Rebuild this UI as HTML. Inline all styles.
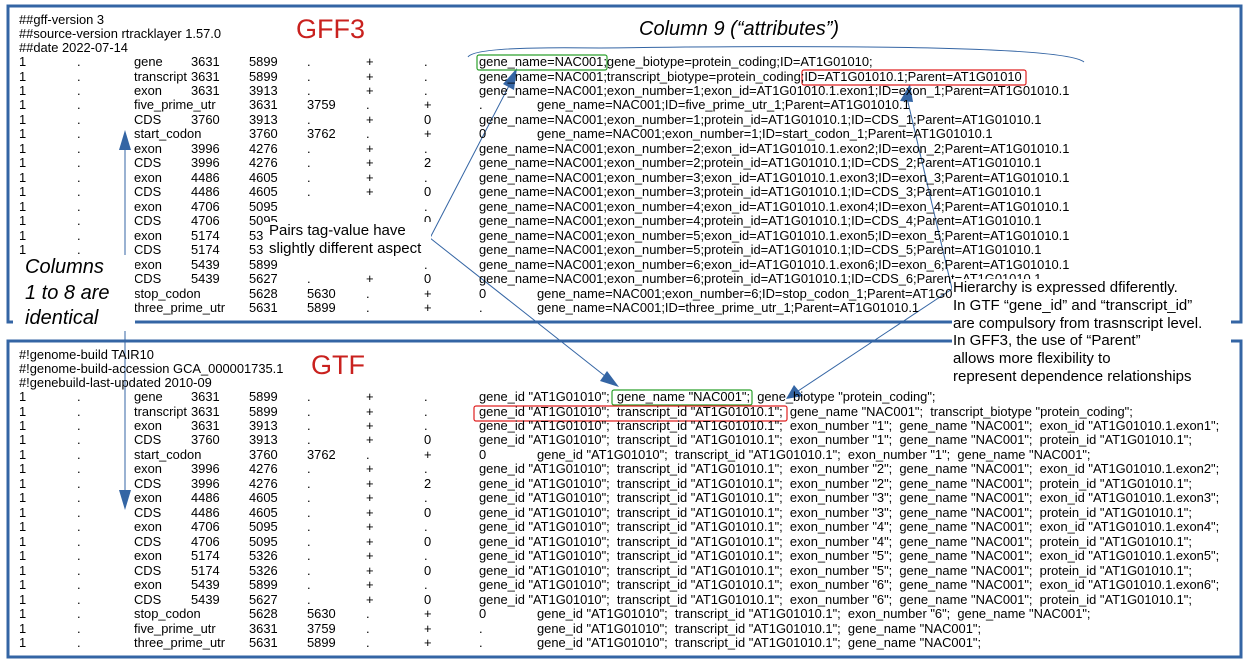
<!DOCTYPE html>
<html><head><meta charset="utf-8"><style>
body{margin:0;width:1248px;height:665px;background:#fff;position:relative;overflow:hidden;font-family:"Liberation Sans",sans-serif;}
.r{position:absolute;left:0;height:14px;line-height:14px;font-size:12.9px;color:#000;white-space:pre;}
.r span{position:absolute;top:0}
.a{left:19px}.b{left:77px}.c{left:134px}.d{left:191px}.e{left:249px}.f{left:307px}.g{left:366px}.h{left:424px}.i{left:479px}.j{left:537px}
.t{position:absolute;white-space:pre;}
svg{position:absolute;left:0;top:0}
</style></head><body>
<svg width="1248" height="665">
<rect x="8" y="6" width="1233" height="316" fill="none" stroke="#3465a4" stroke-width="3"/>
<rect x="8" y="341" width="1233" height="316" fill="none" stroke="#3465a4" stroke-width="3"/>
<path d="M468,57 Q475,46 600,48 Q1060,42 1084,62" fill="none" stroke="#3465a4" stroke-width="1"/>
<g stroke="#3465a4" stroke-width="1" fill="none">
<line x1="125" y1="145" x2="125" y2="495"/>
<line x1="430" y1="238" x2="512" y2="80"/>
<line x1="430" y1="238" x2="610" y2="380"/>
<line x1="952" y1="289" x2="907" y2="98"/>
<line x1="952" y1="289" x2="795" y2="393"/>
</g>
<g fill="#3465a4">
<polygon points="125,130 119,150 131,150"/>
<polygon points="125,510 119,490 131,490"/>
<polygon points="517,68 503,84 514,90"/>
<polygon points="619,387 600,381 607,371"/>
<polygon points="910,84 900,101 913,102"/>
<polygon points="786,399 794,385 803,396"/>
</g>
<rect x="477" y="55" width="130" height="15" rx="2" fill="none" stroke="#2ca02c" stroke-width="1.2"/>
<rect x="802" y="70" width="224" height="15" rx="2" fill="none" stroke="#e02020" stroke-width="1.2"/>
<rect x="612" y="390" width="140" height="15" rx="2" fill="none" stroke="#2ca02c" stroke-width="1.2"/>
<rect x="474" y="406" width="313" height="15" rx="2" fill="none" stroke="#e02020" stroke-width="1.2"/>
</svg>

<div class="t" style="left:296px;top:14px;font-size:27px;color:#c9211e;">GFF3</div>
<div class="t" style="left:311px;top:350px;font-size:27px;color:#c9211e;">GTF</div>
<div class="t" style="left:639px;top:18px;font-size:20px;font-style:italic;">Column 9 (“attributes”)</div>

<div class="r" style="top:13px"><span class="a">##gff-version 3</span></div>
<div class="r" style="top:27px"><span class="a">##source-version rtracklayer 1.57.0</span></div>
<div class="r" style="top:41px"><span class="a">##date 2022-07-14</span></div>
<div class="r" style="top:55px"><span class="a">1</span><span class="b">.</span><span class="c">gene</span><span class="d">3631</span><span class="e">5899</span><span class="f">.</span><span class="g">+</span><span class="h">.</span><span class="i">gene_name=NAC001;gene_biotype=protein_coding;ID=AT1G01010;</span></div>
<div class="r" style="top:69.5px"><span class="a">1</span><span class="b">.</span><span class="c">transcript</span><span class="d">3631</span><span class="e">5899</span><span class="f">.</span><span class="g">+</span><span class="h">.</span><span class="i">gene_name=NAC001;transcript_biotype=protein_coding;ID=AT1G01010.1;Parent=AT1G01010</span></div>
<div class="r" style="top:84px"><span class="a">1</span><span class="b">.</span><span class="c">exon</span><span class="d">3631</span><span class="e">3913</span><span class="f">.</span><span class="g">+</span><span class="h">.</span><span class="i">gene_name=NAC001;exon_number=1;exon_id=AT1G01010.1.exon1;ID=exon_1;Parent=AT1G01010.1</span></div>
<div class="r" style="top:98.4px"><span class="a">1</span><span class="b">.</span><span class="c">five_prime_utr</span><span class="e">3631</span><span class="f">3759</span><span class="g">.</span><span class="h">+</span><span class="i">.</span><span class="j">gene_name=NAC001;ID=five_prime_utr_1;Parent=AT1G01010.1</span></div>
<div class="r" style="top:112.9px"><span class="a">1</span><span class="b">.</span><span class="c">CDS</span><span class="d">3760</span><span class="e">3913</span><span class="f">.</span><span class="g">+</span><span class="h">0</span><span class="i">gene_name=NAC001;exon_number=1;protein_id=AT1G01010.1;ID=CDS_1;Parent=AT1G01010.1</span></div>
<div class="r" style="top:127.3px"><span class="a">1</span><span class="b">.</span><span class="c">start_codon</span><span class="e">3760</span><span class="f">3762</span><span class="g">.</span><span class="h">+</span><span class="i">0</span><span class="j">gene_name=NAC001;exon_number=1;ID=start_codon_1;Parent=AT1G01010.1</span></div>
<div class="r" style="top:141.8px"><span class="a">1</span><span class="b">.</span><span class="c">exon</span><span class="d">3996</span><span class="e">4276</span><span class="f">.</span><span class="g">+</span><span class="h">.</span><span class="i">gene_name=NAC001;exon_number=2;exon_id=AT1G01010.1.exon2;ID=exon_2;Parent=AT1G01010.1</span></div>
<div class="r" style="top:156.3px"><span class="a">1</span><span class="b">.</span><span class="c">CDS</span><span class="d">3996</span><span class="e">4276</span><span class="f">.</span><span class="g">+</span><span class="h">2</span><span class="i">gene_name=NAC001;exon_number=2;protein_id=AT1G01010.1;ID=CDS_2;Parent=AT1G01010.1</span></div>
<div class="r" style="top:170.8px"><span class="a">1</span><span class="b">.</span><span class="c">exon</span><span class="d">4486</span><span class="e">4605</span><span class="f">.</span><span class="g">+</span><span class="h">.</span><span class="i">gene_name=NAC001;exon_number=3;exon_id=AT1G01010.1.exon3;ID=exon_3;Parent=AT1G01010.1</span></div>
<div class="r" style="top:185.2px"><span class="a">1</span><span class="b">.</span><span class="c">CDS</span><span class="d">4486</span><span class="e">4605</span><span class="f">.</span><span class="g">+</span><span class="h">0</span><span class="i">gene_name=NAC001;exon_number=3;protein_id=AT1G01010.1;ID=CDS_3;Parent=AT1G01010.1</span></div>
<div class="r" style="top:199.7px"><span class="a">1</span><span class="b">.</span><span class="c">exon</span><span class="d">4706</span><span class="e">5095</span><span class="h">.</span><span class="i">gene_name=NAC001;exon_number=4;exon_id=AT1G01010.1.exon4;ID=exon_4;Parent=AT1G01010.1</span></div>
<div class="r" style="top:214.2px"><span class="a">1</span><span class="b">.</span><span class="c">CDS</span><span class="d">4706</span><span class="e">5095</span><span class="h">0</span><span class="i">gene_name=NAC001;exon_number=4;protein_id=AT1G01010.1;ID=CDS_4;Parent=AT1G01010.1</span></div>
<div class="r" style="top:228.6px"><span class="a">1</span><span class="b">.</span><span class="c">exon</span><span class="d">5174</span><span class="e">5326</span><span class="h">.</span><span class="i">gene_name=NAC001;exon_number=5;exon_id=AT1G01010.1.exon5;ID=exon_5;Parent=AT1G01010.1</span></div>
<div class="r" style="top:243.1px"><span class="a">1</span><span class="b">.</span><span class="c">CDS</span><span class="d">5174</span><span class="e">5326</span><span class="h">0</span><span class="i">gene_name=NAC001;exon_number=5;protein_id=AT1G01010.1;ID=CDS_5;Parent=AT1G01010.1</span></div>
<div class="r" style="top:257.6px"><span class="a">1</span><span class="b">.</span><span class="c">exon</span><span class="d">5439</span><span class="e">5899</span><span class="h">.</span><span class="i">gene_name=NAC001;exon_number=6;exon_id=AT1G01010.1.exon6;ID=exon_6;Parent=AT1G01010.1</span></div>
<div class="r" style="top:272px"><span class="a">1</span><span class="c">CDS</span><span class="d">5439</span><span class="e">5627</span><span class="f">.</span><span class="g">+</span><span class="h">0</span><span class="i">gene_name=NAC001;exon_number=6;protein_id=AT1G01010.1;ID=CDS_6;Parent=AT1G01010.1</span></div>
<div class="r" style="top:286.5px"><span class="a">1</span><span class="c">stop_codon</span><span class="e">5628</span><span class="f">5630</span><span class="g">.</span><span class="h">+</span><span class="i">0</span><span class="j">gene_name=NAC001;exon_number=6;ID=stop_codon_1;Parent=AT1G01010.1</span></div>
<div class="r" style="top:301px"><span class="a">1</span><span class="c">three_prime_utr</span><span class="e">5631</span><span class="f">5899</span><span class="g">.</span><span class="h">+</span><span class="i">.</span><span class="j">gene_name=NAC001;ID=three_prime_utr_1;Parent=AT1G01010.1</span></div>

<div class="r" style="top:348px"><span class="a">#!genome-build TAIR10</span></div>
<div class="r" style="top:362px"><span class="a">#!genome-build-accession GCA_000001735.1</span></div>
<div class="r" style="top:376px"><span class="a">#!genebuild-last-updated 2010-09</span></div>
<div class="r" style="top:390px"><span class="a">1</span><span class="b">.</span><span class="c">gene</span><span class="d">3631</span><span class="e">5899</span><span class="f">.</span><span class="g">+</span><span class="h">.</span><span class="i">gene_id "AT1G01010";  gene_name "NAC001";  gene_biotype "protein_coding";</span></div>
<div class="r" style="top:404.5px"><span class="a">1</span><span class="b">.</span><span class="c">transcript</span><span class="d">3631</span><span class="e">5899</span><span class="f">.</span><span class="g">+</span><span class="h">.</span><span class="i">gene_id "AT1G01010";  transcript_id "AT1G01010.1";  gene_name "NAC001";  transcript_biotype "protein_coding";</span></div>
<div class="r" style="top:419px"><span class="a">1</span><span class="b">.</span><span class="c">exon</span><span class="d">3631</span><span class="e">3913</span><span class="f">.</span><span class="g">+</span><span class="h">.</span><span class="i">gene_id "AT1G01010";  transcript_id "AT1G01010.1";  exon_number "1";  gene_name "NAC001";  exon_id "AT1G01010.1.exon1";</span></div>
<div class="r" style="top:433.4px"><span class="a">1</span><span class="b">.</span><span class="c">CDS</span><span class="d">3760</span><span class="e">3913</span><span class="f">.</span><span class="g">+</span><span class="h">0</span><span class="i">gene_id "AT1G01010";  transcript_id "AT1G01010.1";  exon_number "1";  gene_name "NAC001";  protein_id "AT1G01010.1";</span></div>
<div class="r" style="top:447.9px"><span class="a">1</span><span class="b">.</span><span class="c">start_codon</span><span class="e">3760</span><span class="f">3762</span><span class="g">.</span><span class="h">+</span><span class="i">0</span><span class="j">gene_id "AT1G01010";  transcript_id "AT1G01010.1";  exon_number "1";  gene_name "NAC001";</span></div>
<div class="r" style="top:462.3px"><span class="a">1</span><span class="b">.</span><span class="c">exon</span><span class="d">3996</span><span class="e">4276</span><span class="f">.</span><span class="g">+</span><span class="h">.</span><span class="i">gene_id "AT1G01010";  transcript_id "AT1G01010.1";  exon_number "2";  gene_name "NAC001";  exon_id "AT1G01010.1.exon2";</span></div>
<div class="r" style="top:476.8px"><span class="a">1</span><span class="b">.</span><span class="c">CDS</span><span class="d">3996</span><span class="e">4276</span><span class="f">.</span><span class="g">+</span><span class="h">2</span><span class="i">gene_id "AT1G01010";  transcript_id "AT1G01010.1";  exon_number "2";  gene_name "NAC001";  protein_id "AT1G01010.1";</span></div>
<div class="r" style="top:491.3px"><span class="a">1</span><span class="b">.</span><span class="c">exon</span><span class="d">4486</span><span class="e">4605</span><span class="f">.</span><span class="g">+</span><span class="h">.</span><span class="i">gene_id "AT1G01010";  transcript_id "AT1G01010.1";  exon_number "3";  gene_name "NAC001";  exon_id "AT1G01010.1.exon3";</span></div>
<div class="r" style="top:505.8px"><span class="a">1</span><span class="b">.</span><span class="c">CDS</span><span class="d">4486</span><span class="e">4605</span><span class="f">.</span><span class="g">+</span><span class="h">0</span><span class="i">gene_id "AT1G01010";  transcript_id "AT1G01010.1";  exon_number "3";  gene_name "NAC001";  protein_id "AT1G01010.1";</span></div>
<div class="r" style="top:520.2px"><span class="a">1</span><span class="b">.</span><span class="c">exon</span><span class="d">4706</span><span class="e">5095</span><span class="f">.</span><span class="g">+</span><span class="h">.</span><span class="i">gene_id "AT1G01010";  transcript_id "AT1G01010.1";  exon_number "4";  gene_name "NAC001";  exon_id "AT1G01010.1.exon4";</span></div>
<div class="r" style="top:534.7px"><span class="a">1</span><span class="b">.</span><span class="c">CDS</span><span class="d">4706</span><span class="e">5095</span><span class="f">.</span><span class="g">+</span><span class="h">0</span><span class="i">gene_id "AT1G01010";  transcript_id "AT1G01010.1";  exon_number "4";  gene_name "NAC001";  protein_id "AT1G01010.1";</span></div>
<div class="r" style="top:549.2px"><span class="a">1</span><span class="b">.</span><span class="c">exon</span><span class="d">5174</span><span class="e">5326</span><span class="f">.</span><span class="g">+</span><span class="h">.</span><span class="i">gene_id "AT1G01010";  transcript_id "AT1G01010.1";  exon_number "5";  gene_name "NAC001";  exon_id "AT1G01010.1.exon5";</span></div>
<div class="r" style="top:563.6px"><span class="a">1</span><span class="b">.</span><span class="c">CDS</span><span class="d">5174</span><span class="e">5326</span><span class="f">.</span><span class="g">+</span><span class="h">0</span><span class="i">gene_id "AT1G01010";  transcript_id "AT1G01010.1";  exon_number "5";  gene_name "NAC001";  protein_id "AT1G01010.1";</span></div>
<div class="r" style="top:578.1px"><span class="a">1</span><span class="b">.</span><span class="c">exon</span><span class="d">5439</span><span class="e">5899</span><span class="f">.</span><span class="g">+</span><span class="h">.</span><span class="i">gene_id "AT1G01010";  transcript_id "AT1G01010.1";  exon_number "6";  gene_name "NAC001";  exon_id "AT1G01010.1.exon6";</span></div>
<div class="r" style="top:592.6px"><span class="a">1</span><span class="b">.</span><span class="c">CDS</span><span class="d">5439</span><span class="e">5627</span><span class="f">.</span><span class="g">+</span><span class="h">0</span><span class="i">gene_id "AT1G01010";  transcript_id "AT1G01010.1";  exon_number "6";  gene_name "NAC001";  protein_id "AT1G01010.1";</span></div>
<div class="r" style="top:607px"><span class="a">1</span><span class="b">.</span><span class="c">stop_codon</span><span class="e">5628</span><span class="f">5630</span><span class="g">.</span><span class="h">+</span><span class="i">0</span><span class="j">gene_id "AT1G01010";  transcript_id "AT1G01010.1";  exon_number "6";  gene_name "NAC001";</span></div>
<div class="r" style="top:621.5px"><span class="a">1</span><span class="b">.</span><span class="c">five_prime_utr</span><span class="e">3631</span><span class="f">3759</span><span class="g">.</span><span class="h">+</span><span class="i">.</span><span class="j">gene_id "AT1G01010";  transcript_id "AT1G01010.1";  gene_name "NAC001";</span></div>
<div class="r" style="top:636px"><span class="a">1</span><span class="b">.</span><span class="c">three_prime_utr</span><span class="e">5631</span><span class="f">5899</span><span class="g">.</span><span class="h">+</span><span class="i">.</span><span class="j">gene_id "AT1G01010";  transcript_id "AT1G01010.1";  gene_name "NAC001";</span></div>

<div class="t" style="left:13px;top:255px;width:110px;height:76px;padding-left:12px;background:#fff;font-size:20px;font-style:italic;line-height:25.5px;">Columns
1 to 8 are
identical</div>
<div class="t" style="left:264px;top:222px;width:162px;height:37px;padding-left:5px;background:#fff;font-size:15px;line-height:18px;">Pairs tag-value have
slightly different aspect</div>
<div class="t" style="left:952px;top:279px;width:278px;height:106px;padding-left:1px;background:#fff;font-size:15px;line-height:17.8px;">Hierarchy is expressed dfiferently.
In GTF “gene_id” and “transcript_id”
are compulsory from trasnscript level.
In GFF3, the use of “Parent”
allows more flexibility to
represent dependence relationships</div>
</body></html>
